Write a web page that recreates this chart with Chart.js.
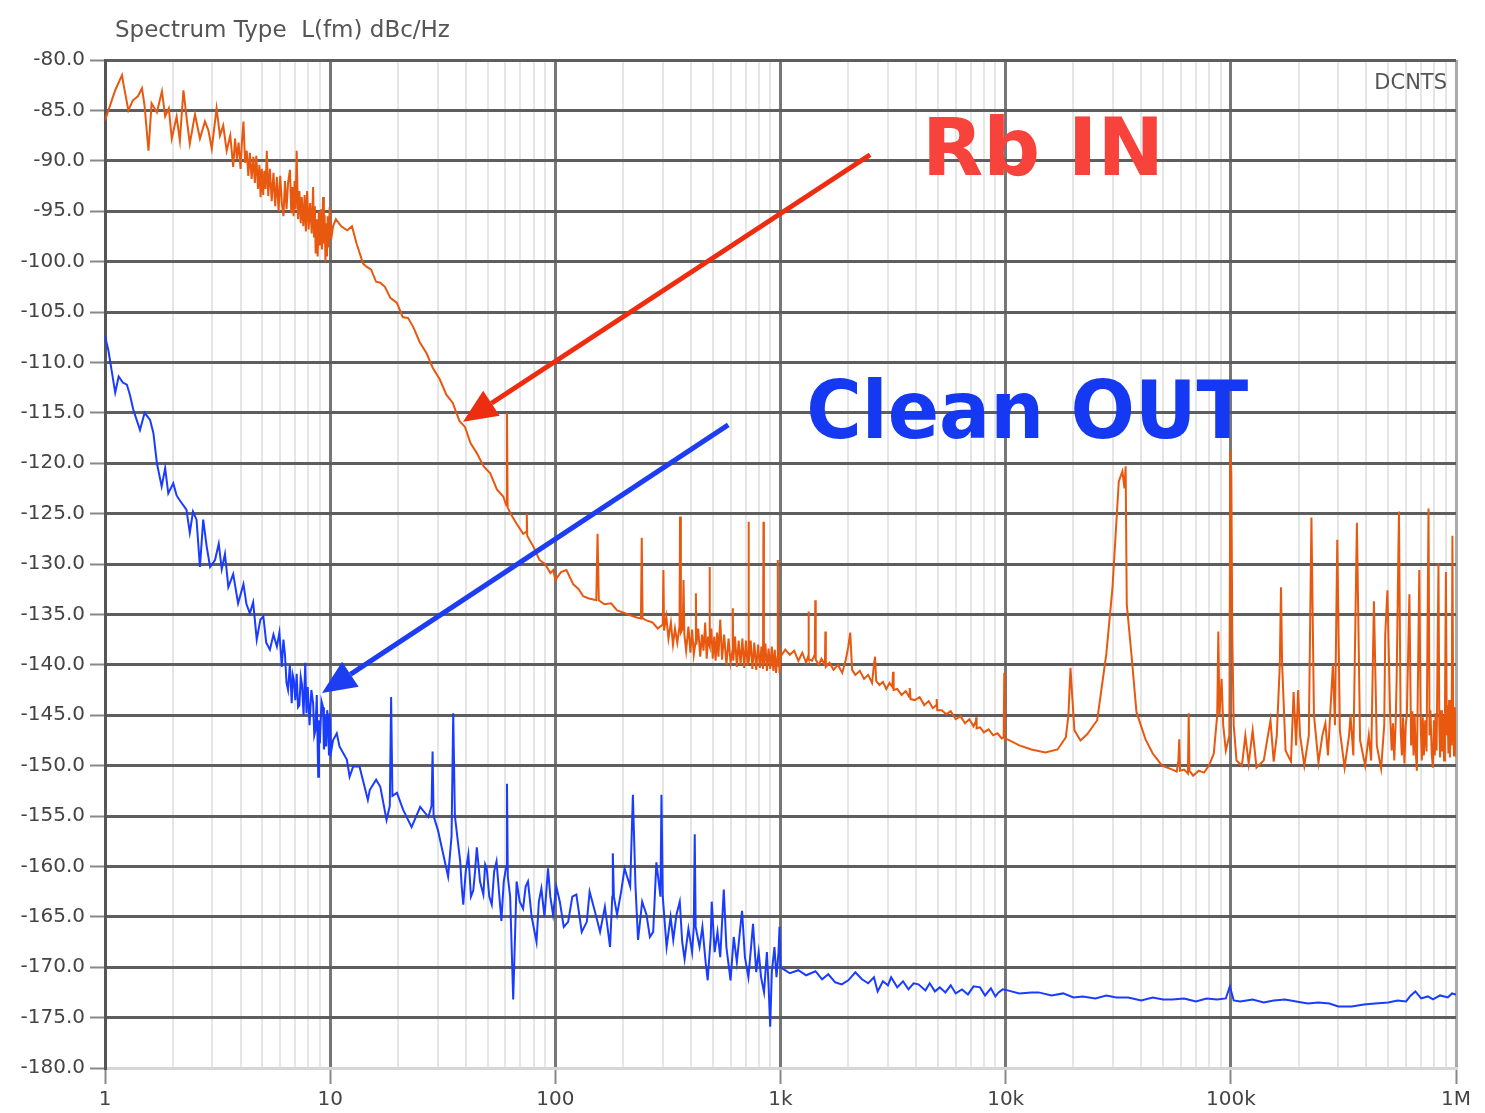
<!DOCTYPE html>
<html>
<head>
<meta charset="utf-8">
<script src="https://cdn.jsdelivr.net/npm/chart.js@4.4.1/dist/chart.umd.min.js"></script>
<style>
  body { margin: 0; background: #fff; }
  canvas { display: block; }
</style>
</head>
<body>
<canvas id="myChart" width="1485" height="1113"></canvas>
<script>
// frequency (Hz), level (dBc/Hz)
var rbIn = [
  [1, -86], [1.05, -84.6], [1.11, -83], [1.19, -81.5], [1.21, -82.5], [1.27, -85], [1.33, -84], [1.4, -83.6],
  [1.46, -82.8], [1.5, -84.6], [1.56, -89], [1.61, -84.3], [1.7, -85.2], [1.79, -83.1], [1.85, -85.6], [1.92, -84.8],
  [1.98, -87.8], [2.08, -85.6], [2.15, -88], [2.23, -83], [2.3, -85.6], [2.38, -88.3], [2.51, -85.4], [2.64, -87.8],
  [2.78, -86.1], [2.88, -87], [2.98, -88.8], [3.13, -84.8], [3.24, -87.5], [3.35, -86.5], [3.47, -89], [3.6, -87.5],
  [3.71, -90.6], [3.78, -87.8], [3.85, -89.8], [3.92, -88.2], [4.0, -90.8], [4.06, -88], [4.12, -86.1], [4.19, -90.2],
  [4.26, -89], [4.33, -91.5], [4.4, -89.2], [4.48, -91.8], [4.56, -89.6], [4.63, -92.2], [4.7, -89.5], [4.78, -92.8],
  [4.85, -90.4], [4.91, -93.6], [4.97, -90.8], [5.04, -93.4], [5.1, -91], [5.17, -92.8], [5.23, -89], [5.31, -93.5],
  [5.4, -90.8], [5.5, -94], [5.6, -91.2], [5.7, -94.5], [5.8, -91.6], [5.9, -95], [6.0, -91.5], [6.1, -94.2],
  [6.2, -95.5], [6.3, -92], [6.4, -94.8], [6.5, -92.2], [6.63, -90.9], [6.72, -95.2], [6.8, -92.6], [6.88, -95.5],
  [6.95, -92], [7.02, -94.8], [7.1, -89], [7.2, -95.8], [7.3, -93], [7.4, -96.2], [7.48, -93.6], [7.6, -96.5],
  [7.7, -93.4], [7.8, -97], [7.9, -93], [8.02, -96.8], [8.15, -94.2], [8.28, -97.2], [8.4, -92.6], [8.48, -97.5],
  [8.55, -94.5], [8.62, -99.2], [8.7, -95.8], [8.8, -99.5], [8.9, -95], [9.0, -98.4], [9.1, -94.8], [9.2, -98.8],
  [9.3, -93.6], [9.38, -98.2], [9.45, -95.4], [9.53, -100], [9.6, -96.2], [9.68, -99.5], [9.75, -95.5], [9.85, -98.6],
  [9.95, -94.6], [10.1, -97.8], [10.3, -96.5],
  [10.6, -95.8], [11.2, -96.5], [11.9, -96.9], [12.5, -96.5], [13.1, -98.2], [14, -100.2], [14.5, -100.5], [15.2, -100.8],
  [16, -102], [16.7, -102.1], [17.5, -102.5], [18.5, -103.6], [19.8, -104.1], [21, -105.5], [22.2, -105.6], [23.4, -106.5],
  [25, -108], [26.8, -109.1], [28.5, -110.5], [30.7, -111.7], [32.8, -113.2], [35, -114], [37.5, -115.8], [39.7, -116.4],
  [42, -118], [44.8, -119], [48, -120.3], [51.4, -121], [55, -122.6], [58.7, -123.3], [60.6, -124.2], [61, -115],
  [61.4, -124.4], [64, -125.2], [67.3, -126], [72, -127], [74.4, -126.8], [74.7, -125], [75, -127.2], [80, -128.3],
  [85, -129.6], [90, -130], [95, -130.9], [98, -130.6], [100, -131.6],
  [106, -130.8], [112, -130.6], [120, -132], [127, -132.5], [133, -133.2], [140, -133.4], [152, -133.6], [154, -127],
  [156, -133.6], [165, -134], [177, -133.9], [188, -134.6], [200, -134.8], [215, -135.1], [230, -135.3], [240, -135.4],
  [242, -127.4], [244, -135.4], [254, -135.6], [270, -135.8], [285, -136.4], [300, -136], [302, -130.6], [304, -136.6],
  [311, -135.2], [318, -137.4], [326, -135.8], [333, -138], [340, -136.4], [348, -137.8], [356, -136.2], [358, -125.3],
  [361, -136.8], [368, -136.4], [371, -131.6], [374, -137], [381, -138.6], [390, -136.2], [398, -138.8], [405, -136.5],
  [412, -139], [419, -137.8], [421, -132.9], [423, -138], [431, -136.4], [440, -139.2], [448, -137], [455, -138.6],
  [463, -135.8], [470, -139.4], [477, -137.2], [482, -138], [484, -130.3], [486, -138.2], [493, -136.4], [500, -139.4],
  [508, -137.2], [515, -139.6], [523, -136.8], [530, -139.2], [540, -135.5], [550, -139.5], [562, -137], [575, -140],
  [588, -137.4], [600, -139.8], [612, -138.6], [614, -134.4], [617, -139.6], [628, -137.2], [640, -140.2], [652, -137.6],
  [665, -140], [677, -137.4], [690, -140.3], [702, -137.6], [715, -140.1], [719, -139], [721, -125.8], [724, -139.8],
  [737, -137.6], [750, -140.4], [765, -137.8], [780, -140.5], [795, -138], [810, -140.3], [823, -138.2], [836, -140.4],
  [840, -125.8], [844, -140], [857, -137.9], [870, -140.6], [885, -138.4], [900, -140.4], [915, -138.2], [930, -140.6],
  [943, -138.5], [955, -140.8], [970, -139.2], [973, -129.6], [976, -140.2], [985, -138.2], [990, -140.8], [1000, -139.2],
  [1050, -138.5], [1100, -139], [1150, -138.6], [1200, -139.6], [1250, -138.8], [1300, -139.8], [1325, -139.2], [1331, -134.7],
  [1337, -139.4], [1380, -139.6], [1420, -139], [1427, -133.6], [1434, -139.5], [1480, -140], [1520, -139.4], [1575, -140],
  [1582, -136.7], [1590, -140.2], [1650, -139.8], [1720, -140.5], [1800, -140], [1880, -140.8], [1950, -139.5], [2000, -138.2],
  [2040, -136.8], [2080, -140.5], [2150, -141], [2250, -140.6], [2350, -141.4], [2450, -141], [2550, -141.8], [2600, -140],
  [2630, -139.2], [2660, -141.6], [2750, -142], [2850, -141.7], [2950, -142.4], [3050, -141.8], [3140, -142.2], [3160, -140.7],
  [3180, -142.5], [3300, -142.4], [3450, -143], [3600, -142.6], [3730, -143.2], [3750, -142.3], [3780, -143.4], [3950, -143.5],
  [4150, -143.2], [4350, -144], [4550, -143.6], [4750, -144.3], [4920, -144], [4940, -143.4], [4970, -144.5], [5200, -144.5],
  [5450, -144.9], [5700, -144.6], [6000, -145.4], [6300, -145.1], [6600, -145.8], [6900, -145.4], [7200, -146.1], [7380, -145.6],
  [7400, -145.2], [7430, -146.3], [7700, -146.2], [8000, -146.7], [8400, -146.4], [8800, -147], [9200, -146.8], [9600, -147.3],
  [9800, -147.2], [9860, -140.8], [9920, -147.4],
  [10200, -147.4], [11500, -148], [13000, -148.4], [15000, -148.7], [17000, -148.4], [18500, -147.2], [19000, -145], [19400, -140.3],
  [19800, -143.5], [20200, -146.5], [21500, -147.5], [23000, -146.9], [25500, -145.5], [28000, -138.9], [29800, -132.4], [31800, -121.8],
  [33000, -120.8], [33700, -122.5], [34100, -120.3], [34500, -134], [36200, -139], [38100, -144.7], [41800, -147.4], [45000, -148.8],
  [49500, -150], [55000, -150.4], [57500, -150.6], [58500, -149.5], [59000, -147.4], [59500, -150.5], [62000, -150.4], [64500, -150.8],
  [65000, -144.8], [65500, -150.5], [68000, -151], [72000, -150.5], [76000, -150.7], [80000, -150], [84000, -148.8], [87000, -145],
  [88000, -136.7], [89000, -145], [91000, -141.4], [92500, -146], [95000, -148.5], [98500, -147], [99500, -118.7], [100500, -121],
  [101500, -137], [103000, -146], [106000, -149.5], [112000, -150], [116000, -147], [120000, -149.8], [125000, -146.5], [130000, -150.2],
  [140000, -149.5], [150000, -145.5], [155000, -149.6], [160000, -147], [165000, -140], [167000, -132.3], [169000, -140], [175000, -148.5],
  [185000, -149.6], [190000, -142.7], [195000, -148], [199000, -142.5], [203000, -147], [212000, -150], [222000, -147], [228000, -125.4],
  [234000, -145], [245000, -149.7], [255000, -147], [263000, -145.8], [270000, -149], [284000, -140], [290000, -146], [297000, -127.6],
  [305000, -146.5], [320000, -150.2], [335000, -147], [340000, -145], [350000, -149], [363000, -125.9], [375000, -147.5], [395000, -150],
  [410000, -147], [420000, -149.5], [432000, -133.7], [445000, -148], [465000, -150.3], [480000, -146], [485000, -137], [496000, -132.6],
  [510000, -145], [518000, -148.5], [525000, -145.8], [532000, -149.5], [540000, -145.5], [545000, -141.4], [558000, -124.8], [568000, -146.5],
  [575000, -149], [582000, -145.2], [590000, -149.8], [598000, -146], [605000, -145], [621000, -133], [632000, -148], [640000, -144.6],
  [648000, -149], [655000, -145], [662000, -148.5], [670000, -150.5], [687000, -130.6], [697000, -146], [705000, -149.5], [712000, -145.2],
  [720000, -149], [730000, -145.5], [740000, -148.6], [755000, -124.5], [763000, -147], [770000, -144.5], [780000, -148.8], [790000, -150.2],
  [798000, -145.5], [805000, -149], [812000, -144.8], [820000, -148.5], [836000, -129.9], [843000, -146], [850000, -149.2], [858000, -144.5],
  [866000, -148.6], [875000, -145], [885000, -149.5], [893000, -144.8], [902000, -130.8], [910000, -147], [918000, -144], [925000, -148.8],
  [932000, -143.5], [940000, -149.2], [948000, -144.5], [956000, -148], [964000, -127.2], [972000, -146], [980000, -149], [988000, -144.2],
  [995000, -148.5], [1000000, -145]
];

var cleanOut = [
  [1, -107.4], [1.035, -108.8], [1.07, -110.8], [1.11, -113], [1.15, -111.4], [1.2, -112], [1.25, -112.2], [1.29, -113.2],
  [1.336, -114.7], [1.43, -116.7], [1.5, -115], [1.585, -115.7], [1.64, -117], [1.7, -120], [1.785, -122.3], [1.85, -120.5],
  [1.91, -123], [2.01, -122], [2.08, -123.2], [2.15, -123.7], [2.3, -124.6], [2.38, -126.9], [2.46, -124.8], [2.55, -125.6],
  [2.64, -130.3], [2.73, -125.6], [2.83, -128.3], [2.93, -130.3], [3.08, -129.6], [3.2, -128], [3.3, -130.5], [3.41, -129],
  [3.53, -132.3], [3.71, -131], [3.9, -133.9], [4.12, -132], [4.25, -134], [4.4, -134.9], [4.55, -133.8], [4.72, -137.5],
  [4.9, -135.5], [5.05, -135.2], [5.2, -137.8], [5.4, -138.5], [5.6, -137], [5.8, -138.2], [5.95, -136.8], [6.1, -140.2],
  [6.2, -137.5], [6.3, -139], [6.4, -141.8], [6.5, -142.5], [6.62, -140], [6.75, -143.8], [6.82, -141], [6.9, -141.5],
  [7.0, -143.5], [7.1, -140.9], [7.2, -144.2], [7.3, -144], [7.4, -141.2], [7.5, -142], [7.62, -145], [7.75, -139.8],
  [7.85, -144.8], [7.95, -142.2], [8.1, -146], [8.25, -142.5], [8.4, -143.8], [8.5, -147], [8.6, -146.5], [8.72, -143],
  [8.85, -151.1], [8.92, -145.5], [9.0, -147.8], [9.15, -143.6], [9.3, -144.2], [9.38, -148.4], [9.45, -147.5], [9.52, -145],
  [9.6, -148.1], [9.7, -144.5], [9.8, -146], [9.88, -149], [9.95, -144.8], [10.1, -148.6], [10.3, -147.5],
  [10.7, -146.8], [11.0, -148.1], [11.86, -149.4], [12.2, -151.1], [12.65, -150.1],
  [13.5, -150.1], [14.0, -151.5], [14.7, -153.4], [15.0, -152.4], [16.0, -151.4], [16.7, -152.1], [17.8, -155.4], [18.4, -154],
  [18.65, -143.2], [18.9, -153], [19.8, -152.7], [21.1, -154.4], [23, -156.1], [25.1, -154.1], [27.3, -155.1], [28.2, -154],
  [28.5, -148.6], [28.8, -155], [30.1, -156.4], [33.4, -161], [34.6, -157], [35.2, -144.8], [35.8, -155], [37.8, -159.5],
  [38.4, -162], [39, -163.8], [40, -160.5], [41.1, -158.8], [42.2, -163], [43.2, -162.4], [44, -160.5], [44.8, -158.1],
  [46.3, -161.5], [47.9, -162.8], [48.8, -159.8], [49.6, -160.2], [50.9, -163], [52.2, -163.8], [53.5, -160.5], [54.8, -159.5],
  [56.2, -162.5], [57.6, -165.4], [59, -161.5], [60.5, -160], [61, -151.8], [61.5, -161], [63, -163], [65, -173.2],
  [67.3, -161.5], [69.5, -163.5], [71.9, -164.2], [73.8, -162], [75.6, -161.5], [78.5, -165], [82.5, -167.5], [84.5, -163.5],
  [86.7, -162.2], [89.5, -165], [92.8, -160.2], [95, -163], [97.7, -164.8], [101, -162], [104.7, -163.5], [109, -166],
  [114, -165.5], [119, -163], [124, -162.8], [131, -166.5], [138, -165.5], [142, -162.5], [150, -164.5], [158, -166.5],
  [166, -164], [175, -168], [179, -163], [180, -158.7], [182, -163], [188, -164.8], [196, -162.5], [203, -160.2],
  [215, -162], [221, -152.9], [227, -162], [233, -167.3], [243, -163.5], [254, -164.8], [263, -167], [272, -166.5],
  [281, -159.6], [293, -163], [296, -152.9], [300, -163], [312, -168], [325, -165], [334, -167.3], [345, -164.8],
  [357, -163.5], [366, -167.5], [375, -169.2], [390, -166.2], [405, -168.5], [412, -166], [416, -156.8], [420, -166],
  [437, -168], [450, -166], [465, -169.5], [475, -171.3], [490, -167], [495, -163.5], [510, -168.5], [525, -166.5],
  [540, -169], [560, -162.3], [575, -168], [600, -171.3], [620, -167], [640, -169.5], [660, -166.5], [675, -164.4],
  [695, -169], [720, -171], [740, -168], [755, -165.7], [780, -170.5], [800, -168.5], [820, -171], [845, -172.5],
  [870, -168.5], [885, -171.8], [900, -175.9], [915, -170.5], [940, -168], [960, -171], [980, -168.5], [990, -166],
  [1000, -170],
  [1030, -170.2], [1100, -170.6], [1200, -170.3], [1300, -170.8], [1430, -170.4], [1530, -171.2], [1630, -170.7], [1750, -171.5],
  [1870, -171.7], [2000, -171.3], [2150, -170.5], [2300, -171.2], [2450, -171.6], [2600, -171], [2700, -172.4], [2850, -171.4],
  [3000, -171.8], [3100, -171], [3300, -172], [3500, -171.4], [3700, -172.2], [3900, -171.6], [4100, -171.7], [4400, -172.3],
  [4600, -171.6], [4850, -172.4], [5100, -172], [5400, -172.5], [5700, -171.8], [6000, -172.6], [6400, -172.2], [6800, -172.7],
  [7200, -171.9], [7700, -172], [8100, -172.8], [8600, -172.1], [9000, -172.9], [9300, -172.5], [9700, -172.2], [10200, -172.3],
  [11500, -172.6], [13000, -172.5], [14000, -172.5], [16000, -172.8], [18000, -172.6], [20000, -173], [22000, -172.9], [25000, -173.1],
  [28000, -172.8], [31000, -173], [35000, -173], [40000, -173.3], [45000, -173], [50000, -173.2], [55000, -173.2], [62000, -173.1],
  [70000, -173.4], [78000, -173.1], [87000, -173.2], [95000, -173.1], [99000, -171.9], [103000, -173.3], [110000, -173.4], [125000, -173.2],
  [140000, -173.5], [155000, -173.3], [174000, -173.2], [195000, -173.4], [220000, -173.6], [245000, -173.5], [274000, -173.6], [300000, -173.9],
  [344000, -173.9], [390000, -173.7], [437000, -173.6], [500000, -173.5], [550000, -173.3], [600000, -173.4], [630000, -172.8], [660000, -172.4],
  [700000, -173.1], [750000, -172.9], [790000, -173.2], [850000, -172.8], [920000, -173], [960000, -172.6], [1000000, -172.7]
];

var decades = [1, 10, 100, 1000, 10000, 100000, 1000000];
var decadeLabels = ["1", "10", "100", "1k", "10k", "100k", "1M"];

// log grid: 1..9 in each decade
var xTicks = [];
for (var d = 0; d < decades.length - 1; d++) {
  for (var m = 1; m < 10; m++) xTicks.push(decades[d] * m);
}
xTicks.push(1000000);

function arrow(ctx, x1, y1, x2, y2, color) {
  var a = Math.atan2(y2 - y1, x2 - x1);
  var len = 34, half = 15;
  var bx = x2 - len * Math.cos(a), by = y2 - len * Math.sin(a);
  ctx.save();
  ctx.strokeStyle = color;
  ctx.fillStyle = color;
  ctx.lineWidth = 5;
  ctx.beginPath();
  ctx.moveTo(x1, y1);
  ctx.lineTo(bx, by);
  ctx.stroke();
  ctx.beginPath();
  ctx.moveTo(x2, y2);
  ctx.lineTo(bx + half * Math.sin(a), by - half * Math.cos(a));
  ctx.lineTo(bx - half * Math.sin(a), by + half * Math.cos(a));
  ctx.closePath();
  ctx.fill();
  ctx.restore();
}

var notes = {
  id: "notes",
  afterDatasetsDraw: function (chart) {
    var ctx = chart.ctx, x = chart.scales.x, y = chart.scales.y;
    arrow(ctx, x.getPixelForValue(2500), y.getPixelForValue(-89.4), x.getPixelForValue(38.9), y.getPixelForValue(-115.9), "#ee2c10");
    arrow(ctx, x.getPixelForValue(586), y.getPixelForValue(-116.2), x.getPixelForValue(9.2), y.getPixelForValue(-142.8), "#1d3df2");
    ctx.save();
    ctx.font = "bold 80px 'DejaVu Sans'";
    ctx.textBaseline = "alphabetic";
    ctx.fillStyle = "#f8433d";
    ctx.fillText("Rb IN", x.getPixelForValue(4250), y.getPixelForValue(-91.4), 242);
    ctx.fillStyle = "#1538f2";
    ctx.fillText("Clean OUT", x.getPixelForValue(1300), y.getPixelForValue(-117.5), 442);
    ctx.restore();
  },
  afterDraw: function (chart) {
    var ctx = chart.ctx;
    ctx.save();
    ctx.fillStyle = "#555";
    ctx.font = "23px 'DejaVu Sans'";
    ctx.textBaseline = "alphabetic";
    ctx.fillText("Spectrum Type  L(fm) dBc/Hz", 115, 37, 336);
    ctx.font = "21px 'DejaVu Sans'";
    ctx.textAlign = "right";
    ctx.fillText("DCNTS", 1447, 89);
    ctx.restore();
  }
};

new Chart("myChart", {
  type: "line",
  data: {
    datasets: [{
      data: rbIn.map(function (p) { return { x: p[0], y: p[1] }; }),
      borderColor: "#e8580f",
      borderWidth: 2,
      pointRadius: 0
    }, {
      data: cleanOut.map(function (p) { return { x: p[0], y: p[1] }; }),
      borderColor: "#1a3cff",
      borderWidth: 2,
      pointRadius: 0
    }]
  },
  options: {
    responsive: false,
    animation: false,
    devicePixelRatio: 1,
    layout: { padding: { top: 60, right: 29, left: 0, bottom: 0 } },
    plugins: { legend: { display: false }, tooltip: { enabled: false } },
    scales: {
      x: {
        type: "logarithmic",
        min: 1,
        max: 1000000,
        afterBuildTicks: function (scale) {
          scale.ticks = xTicks.map(function (v) { return { value: v, major: decades.indexOf(v) >= 0 }; });
        },
        afterFit: function (scale) { scale.height = 45; },
        ticks: {
          autoSkip: false,
          maxRotation: 0,
          padding: 4,
          color: "#444",
          font: { family: "'DejaVu Sans'", size: 20 },
          callback: function (v) {
            var i = decades.indexOf(v);
            return i >= 0 ? decadeLabels[i] : "";
          }
        },
        grid: {
          color: function (c) {
            var v = c.tick && c.tick.value;
            if (v === 1000000) return "#aaaaaa";
            return decades.indexOf(v) >= 0 ? "#777777" : "#e6e6e6";
          },
          lineWidth: function (c) {
            return c.tick && decades.indexOf(c.tick.value) >= 0 ? 3 : 2;
          },
          tickColor: function (c) {
            return c.tick && decades.indexOf(c.tick.value) >= 0 ? "#888888" : "rgba(0,0,0,0)";
          },
          tickWidth: 2,
          tickLength: 16
        },
        border: { display: true, color: "#d6d6d6", width: 3 }
      },
      y: {
        type: "linear",
        min: -180,
        max: -80,
        afterFit: function (scale) { scale.width = 105; },
        ticks: {
          stepSize: 5,
          padding: 5,
          color: "#444",
          font: { family: "'DejaVu Sans'", size: 20 },
          callback: function (v) { return v.toFixed(1); }
        },
        grid: {
          color: function (c) {
            return c.tick && c.tick.value === -180 ? "#d6d6d6" : "#5e5e5e";
          },
          lineWidth: 3,
          tickColor: "#888888",
          tickWidth: 2,
          tickLength: 15
        },
        border: { display: true, color: "#555555", width: 3 }
      }
    }
  },
  plugins: [notes]
});
</script>
</body>
</html>
